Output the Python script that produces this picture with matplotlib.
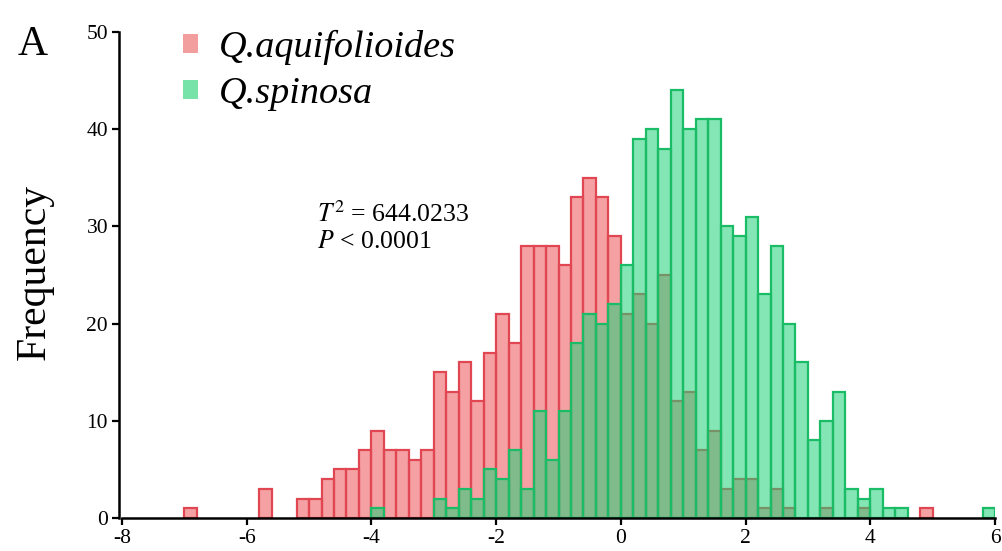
import numpy as np
import matplotlib
matplotlib.use("Agg")
import matplotlib.pyplot as plt
from matplotlib.patches import Patch

plt.rcParams['font.family'] = ['Liberation Serif', 'DejaVu Serif']
plt.rcParams['mathtext.fontset'] = 'stix'

# histogram counts, bin width 0.2
bin_width = 0.2
aqui_start = -7.0
aqui_counts = [1, 0, 0, 0, 0, 0, 3, 0, 0, 2, 2, 4, 5, 5, 7, 9, 7, 7, 6, 7,
               15, 13, 16, 12, 17, 21, 18, 28, 28, 28, 26, 33, 35, 33, 29,
               21, 23, 20, 25, 12, 13, 7, 9, 3, 4, 4, 1, 3, 1, 0, 0, 1, 0,
               0, 1, 0, 0, 0, 0, 1]
spin_start = -4.0
spin_counts = [1, 0, 0, 0, 0, 2, 1, 3, 2, 5, 4, 7, 3, 11, 6, 11, 18, 21, 20,
               22, 26, 39, 40, 38, 44, 40, 41, 41, 30, 29, 31, 23, 28, 20, 16,
               8, 10, 13, 3, 2, 3, 1, 1, 0, 0, 0, 0, 0, 0, 1]

labels = ['Q.aquifolioides', 'Q.spinosa']
t2_text = r'$T^2$ = 644.0233'
p_text = r'$P$ < 0.0001'
xticks = [-8, -6, -4, -2, 0, 2, 4, 6]
yticks = [0, 10, 20, 30, 40, 50]

red_face = (0.93, 0.33, 0.35, 0.55)
red_edge = (0.88, 0.28, 0.32)
green_face = (0.12, 0.82, 0.47, 0.55)
green_edge = (0.10, 0.74, 0.40)


def bar_series(ax, start, counts, face, edge, z):
    counts = np.array(counts)
    lefts = np.round(start + bin_width * np.arange(len(counts)), 1)
    keep = counts > 0
    ax.bar(lefts[keep], counts[keep], width=bin_width, align='edge',
           facecolor=face, edgecolor=edge, linewidth=1.6, zorder=z)


fig = plt.figure(figsize=(10.02, 5.51), dpi=100)
ax = fig.add_axes([122 / 1002, 33 / 551, 873 / 1002, 486 / 551])

bar_series(ax, aqui_start, aqui_counts, red_face, red_edge, 2)
bar_series(ax, spin_start, spin_counts, green_face, green_edge, 3)

ax.set_xlim(-8, 6)
ax.set_ylim(0, 50)
ax.set_xticks(xticks)
ax.set_yticks(yticks)
ax.set_xticklabels([str(v) for v in xticks])
ax.tick_params(axis='both', direction='out', length=5, width=1.6,
               labelsize=15.5, pad=3)
for side in ['top', 'right']:
    ax.spines[side].set_visible(False)
for side in ['left', 'bottom']:
    ax.spines[side].set_linewidth(1.8)
    ax.spines[side].set_zorder(5)
ax.spines['left'].set_position(('outward', 2))

fig.text(35 / 1002, 1 - 272 / 551, 'Frequency', fontsize=30, rotation=90,
         ha='center', va='center')

handles = [Patch(facecolor=(0.95, 0.62, 0.62), edgecolor='none'),
           Patch(facecolor=(0.47, 0.89, 0.66), edgecolor='none')]
ax.legend(handles, labels, loc='upper left', frameon=False,
          bbox_to_anchor=(168 / 1002, 1 - 15 / 551),
          bbox_transform=fig.transFigure,
          prop={'family': 'Liberation Serif', 'style': 'italic', 'size': 27.5},
          handlelength=0.38, handleheight=0.38, handletextpad=0.55,
          labelspacing=0.3, borderaxespad=0)

ax.text(-4.87, 31.3, t2_text, fontsize=18.5, ha='left', va='center')
ax.text(-4.87, 28.4, p_text, fontsize=18.5, ha='left', va='center')

fig.text(18 / 1002, 1 - 45 / 551, 'A', fontsize=30, ha='left', va='center')

fig.savefig('out.png', dpi=100)
